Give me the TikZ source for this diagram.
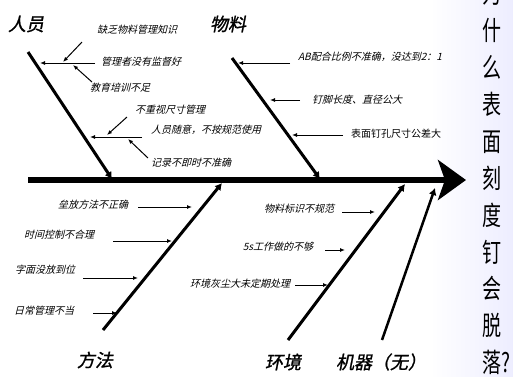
\documentclass[tikz,border=0pt]{standalone}
\usepackage{fontspec}
\newfontfamily\cjk{Noto Sans CJK SC}
\newfontfamily\cjksl[FakeSlant=0.25]{Noto Sans CJK SC}
\newfontfamily\cjkhd[FakeSlant=0.2,FakeBold=1.2]{Noto Sans CJK SC}
\usetikzlibrary{arrows.meta}

\begin{document}
\begin{tikzpicture}[
      x=1pt, y=-1pt,
      spine/.style={line width=6pt,-{Stealth[length=28pt,width=40pt,inset=7pt]}},
      bone/.style={line width=3pt,-{Latex[length=7pt,width=8pt]}},
      twig/.style={line width=1pt,-{Latex[length=5pt,width=4pt]}},
      cause/.style={font=\cjksl\fontsize{10}{12}\selectfont, inner sep=0pt},
      head/.style={font=\cjkhd\fontsize{18}{20}\selectfont, inner sep=0pt}
      ]
      \useasboundingbox (0,0) rectangle (513,376);
      \shade[left color=white, right color=blue!7!white] (430,0) rectangle (513,376);

      % spine and question
      \coordinate (tail) at (28,180);
      \coordinate (tip) at (466,180);
      \draw[spine] (tail) -- (tip);
      \node[font=\cjk\fontsize{19}{26.4}\selectfont, align=center, yscale=1.4, inner sep=0pt]
        (why) at (492,178) {为\\什\\么\\表\\面\\刻\\度\\钉\\会\\脱\\落\rlap{?}};

      % people
      \node[head] (ry) at (26,24) {人员};
      \coordinate (r0) at (28,52);
      \coordinate (r1) at (112,179);
      \draw[bone] (r0) -- (r1);
      \node[cause] (ra) at (137,30) {缺乏物料管理知识};
      \node[cause] (rb) at (141,62) {管理者没有监督好};
      \node[cause] (rc) at (120,88) {教育培训不足};
      \node[cause] (rd) at (170,110) {不重视尺寸管理};
      \node[cause] (re) at (206,130) {人员随意，不按规范使用};
      \node[cause] (rf) at (191,163) {记录不即时不准确};
      \coordinate (ra0) at (82,42);  \coordinate (ra1) at (63,62);
      \coordinate (rb0) at (95,63);  \coordinate (rb1) at (40,63);
      \coordinate (rc0) at (92,82);  \coordinate (rc1) at (73,65);
      \coordinate (rd0) at (127,117); \coordinate (rd1) at (107,135);
      \coordinate (re0) at (142,137); \coordinate (re1) at (90,137);
      \coordinate (rf0) at (148,158); \coordinate (rf1) at (128,139);
      \draw[twig] (ra0) -- (ra1);
      \draw[twig] (rb0) -- (rb1);
      \draw[twig] (rc0) -- (rc1);
      \draw[twig] (rd0) -- (rd1);
      \draw[twig] (re0) -- (re1);
      \draw[twig] (rf0) -- (rf1);

      % material
      \node[head] (wl) at (228,24) {物料};
      \coordinate (w0) at (232,58);
      \coordinate (w1) at (320,179);
      \draw[bone] (w0) -- (w1);
      \node[cause] (wa) at (370,57) {AB配合比例不准确，没达到2：1};
      \node[cause] (wb) at (357,100) {钉脚长度、直径公大};
      \node[font=\cjk\fontsize{10}{12}\selectfont, inner sep=0pt] (wc) at (396,134) {表面钉孔尺寸公差大};
      \coordinate (wa0) at (290,63);  \coordinate (wa1) at (238,63);
      \coordinate (wb0) at (300,100); \coordinate (wb1) at (270,100);
      \coordinate (wc0) at (343,135); \coordinate (wc1) at (292,135);
      \draw[twig] (wa0) -- (wa1);
      \draw[twig] (wb0) -- (wb1);
      \draw[twig] (wc0) -- (wc1);

      % method
      \node[head] (ff) at (95,360) {方法};
      \coordinate (f0) at (103,330);
      \coordinate (f1) at (222,183);
      \draw[bone] (f0) -- (f1);
      \node[cause] (fa) at (93,205) {垒放方法不正确};
      \node[cause] (fb) at (59,235) {时间控制不合理};
      \node[cause] (fc) at (45,270) {字面没放到位};
      \node[cause] (fd) at (44,311) {日常管理不当};
      \coordinate (fa0) at (138,207); \coordinate (fa1) at (192,207);
      \coordinate (fb0) at (113,241); \coordinate (fb1) at (172,241);
      \coordinate (fc0) at (83,278);  \coordinate (fc1) at (138,278);
      \coordinate (fd0) at (93,313);  \coordinate (fd1) at (117,313);
      \draw[twig] (fa0) -- (fa1);
      \draw[twig] (fb0) -- (fb1);
      \draw[twig] (fc0) -- (fc1);
      \draw[twig] (fd0) -- (fd1);

      % environment
      \node[head] (hj) at (283,362) {环境};
      \coordinate (h0) at (288,340);
      \coordinate (h1) at (405,184);
      \draw[bone] (h0) -- (h1);
      \node[cause] (ha) at (299,209) {物料标识不规范};
      \node[cause] (hb) at (278,247) {5s工作做的不够};
      \node[cause] (hc) at (240,284) {环境灰尘大未定期处理};
      \coordinate (ha0) at (342,212); \coordinate (ha1) at (375,212);
      \coordinate (hb0) at (325,250); \coordinate (hb1) at (345,250);
      \coordinate (hc0) at (295,285); \coordinate (hc1) at (328,285);
      \draw[twig] (ha0) -- (ha1);
      \draw[twig] (hb0) -- (hb1);
      \draw[twig] (hc0) -- (hc1);

      % machine
      \node[head] (jq) at (381,362) {机器（无）};
      \coordinate (j0) at (382,340);
      \coordinate (j1) at (435,188);
      \draw[bone, line width=2.5pt] (j0) -- (j1);
\end{tikzpicture}
\end{document}
